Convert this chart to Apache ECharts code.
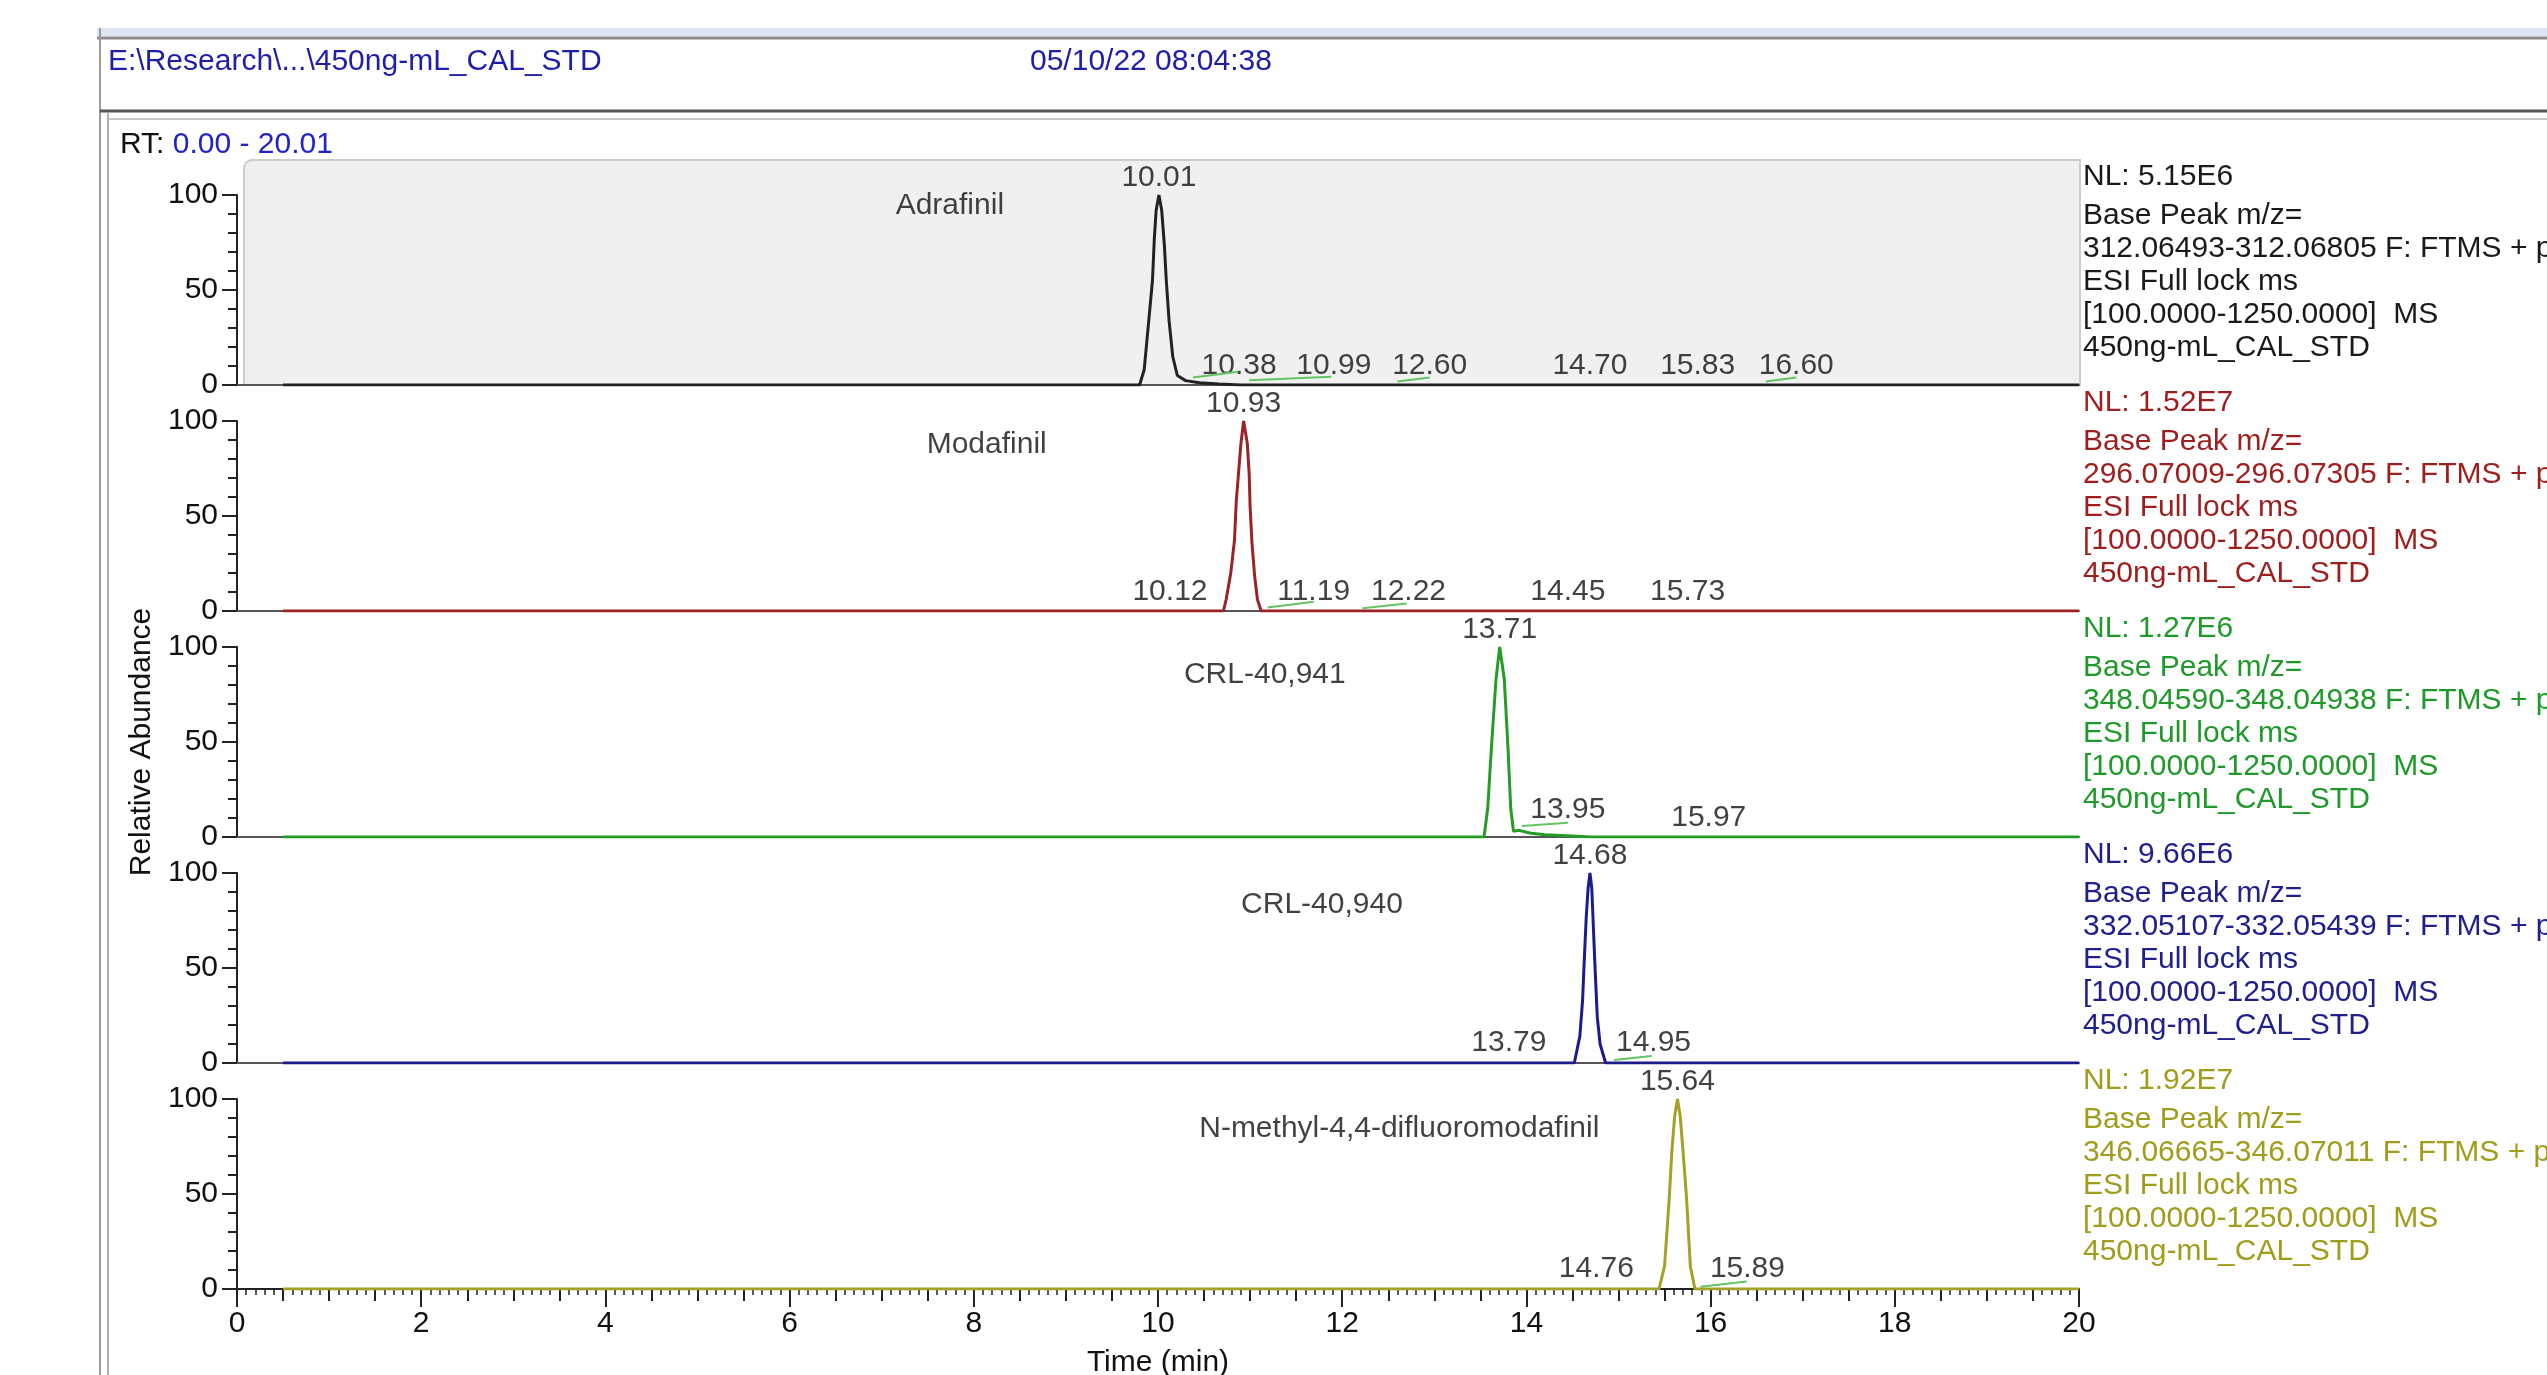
<!DOCTYPE html>
<html>
<head>
<meta charset="utf-8">
<title>450ng-mL_CAL_STD chromatograms</title>
<script src="https://cdn.jsdelivr.net/npm/echarts@6/dist/echarts.min.js"></script>
<style>
    *{margin:0;padding:0;}
    body{width:2547px;height:1375px;overflow:hidden;background:#fff;}
    #main{width:2547px;height:1375px;}
</style>
</head>
<body>
<div id="main"></div>
<script>
// ---------------- data ----------------
var compounds = ['Adrafinil', 'Modafinil', 'CRL-40,941', 'CRL-40,940', 'N-methyl-4,4-difluoromodafinil'];
var nlValues = ['5.15E6', '1.52E7', '1.27E6', '9.66E6', '1.92E7'];
var mzRanges = ['312.06493-312.06805', '296.07009-296.07305', '348.04590-348.04938', '332.05107-332.05439', '346.06665-346.07011'];

// [time (min), relative abundance]
var traceAdrafinil = [[0.5,0],[9.80,0],[9.85,8],[9.90,34],[9.94,55],[9.96,77],[9.98,92],[10.01,100],[10.04,92],[10.07,73],[10.09,55],[10.12,34],[10.16,15],[10.21,5],[10.30,2.3],[10.45,1.2],[10.66,0.5],[10.9,0],[20,0]];
var traceModafinil = [[0.5,0],[10.71,0],[10.74,6],[10.79,20],[10.83,37],[10.85,58],[10.88,76],[10.90,88],[10.93,100],[10.97,88],[10.99,72],[11.00,55],[11.02,36],[11.05,18],[11.08,6],[11.12,0],[20,0]];
var traceCRL941 = [[0.5,0],[13.54,0],[13.58,15],[13.62,47],[13.67,83],[13.71,100],[13.76,83],[13.80,47],[13.83,15],[13.86,3],[13.92,3.5],[14.05,2],[14.2,1.2],[14.5,0.5],[14.7,0],[20,0]];
var traceCRL940 = [[0.5,0],[14.52,0],[14.58,14],[14.61,33],[14.63,56],[14.65,77],[14.67,92],[14.69,100],[14.71,92],[14.73,68],[14.75,45],[14.77,24],[14.80,10],[14.86,0],[20,0]];
var traceNMethyl = [[0.5,0],[15.44,0],[15.50,12],[15.55,47],[15.58,73],[15.61,91],[15.64,100],[15.67,91],[15.70,73],[15.74,47],[15.78,12],[15.83,0],[20,0]];
var traces = [traceAdrafinil, traceModafinil, traceCRL941, traceCRL940, traceNMethyl];

// retention time printed above each main peak
var apexLabels = [[10.01,'10.01'],[10.93,'10.93'],[13.71,'13.71'],[14.69,'14.68'],[15.64,'15.64']];

// small peak labels: [time, abundance, text]
var minorLabels = [
    [[10.88,10,'10.38'],[11.91,10,'10.99'],[12.95,10,'12.60'],[14.69,10,'14.70'],[15.86,10,'15.83'],[16.93,10,'16.60']],
    [[10.13,10.2,'10.12'],[11.69,10.2,'11.19'],[12.72,10.2,'12.22'],[14.45,10.2,'14.45'],[15.75,10.2,'15.73']],
    [[14.45,14.6,'13.95'],[15.98,10.3,'15.97']],
    [[13.81,10.5,'13.79'],[15.38,10.5,'14.95']],
    [[14.76,10.5,'14.76'],[16.40,10.5,'15.89']]
];

// green integration baselines: [[t1,v1],[t2,v2]]
var greenLines = [
    [[[10.38,4],[10.87,7]], [[10.99,2.5],[11.88,4.4]], [[12.60,1.8],[12.95,4]], [[16.60,1.8],[16.93,4]]],
    [[[11.19,1.9],[11.69,4.9]], [[12.22,1.4],[12.70,4]]],
    [[[13.95,5.8],[14.45,7.5]]],
    [[[14.95,1.6],[15.36,3.7]]],
    [[[15.89,1.2],[16.39,3.9]]]
];

// where the compound name sits in each panel: [time, abundance]
var namePos = [[7.74,94.5],[8.14,87.5],[11.16,85.5],[11.78,83.5],[12.62,84.5]];

// ---------------- styling ----------------
var FONT = "'Liberation Sans', Arial, sans-serif";
var traceColors = ['#222222', '#9c2226', '#259c25', '#1c1c8c', '#a4a226'];
var infoColors = ['#1a1a1a', '#9e1e1e', '#1f9a2a', '#20208c', '#a09c1c'];
var gridTop0 = 195, gridStep = 226, gridH = 190;

var grids = [], xAxes = [], yAxes = [], series = [], graphics = [];

for (var i = 0; i < 5; i++) {
    var last = (i === 4);
    grids.push({left: 237, width: 1842, top: gridTop0 + gridStep * i, height: gridH,
        containLabel: false, outerBoundsMode: 'none'});
    xAxes.push({
        gridIndex: i, type: 'value', min: 0, max: 20, interval: 2, position: 'bottom',
        axisLine: {show: true, lineStyle: {color: last ? '#222' : '#555', width: 2}},
        axisTick: {show: last, length: 18, lineStyle: {color: '#222', width: 2}},
        axisLabel: {show: last, fontSize: 30, fontFamily: FONT, color: '#111', margin: 20},
        splitLine: {show: false},
        name: last ? 'Time (min)' : '', nameLocation: 'middle', nameGap: 59,
        nameTextStyle: {fontSize: 30, fontFamily: FONT, color: '#111'}
    });
    yAxes.push({
        gridIndex: i, type: 'value', min: 0, max: 100, interval: 50,
        axisLine: {show: true, lineStyle: {color: '#222', width: 2}},
        axisTick: {show: true, length: 15, lineStyle: {color: '#222', width: 2}},
        minorTick: {show: true, splitNumber: 5, length: 9, lineStyle: {color: '#222', width: 2}},
        axisLabel: {fontSize: 30, fontFamily: FONT, color: '#111', margin: 19},
        splitLine: {show: false}, minorSplitLine: {show: false},
        name: i === 2 ? 'Relative Abundance' : '', nameLocation: 'middle', nameGap: 80, nameRotate: 90,
        nameTextStyle: {fontSize: 30, fontFamily: FONT, color: '#111'}
    });

    series.push({
        type: 'line', xAxisIndex: i, yAxisIndex: i, data: traces[i],
        showSymbol: false, symbol: 'none', z: 4,
        lineStyle: {color: traceColors[i], width: 3}
    });
    greenLines[i].forEach(function (seg) {
        series.push({
            type: 'line', xAxisIndex: i, yAxisIndex: i, data: seg,
            showSymbol: false, symbol: 'none', z: 3,
            lineStyle: {color: '#62c462', width: 2}
        });
    });
    series.push({
        type: 'scatter', xAxisIndex: i, yAxisIndex: i, symbolSize: 1, silent: true,
        itemStyle: {color: 'rgba(0,0,0,0)'},
        data: minorLabels[i],
        label: {show: true, position: 'inside', fontSize: 30, fontFamily: FONT, color: '#111',
            formatter: function (p) { return p.value[2]; }}
    });
    series.push({
        type: 'scatter', xAxisIndex: i, yAxisIndex: i, symbolSize: 1, silent: true,
        itemStyle: {color: 'rgba(0,0,0,0)'},
        data: [[apexLabels[i][0], 100, apexLabels[i][1]]],
        label: {show: true, position: 'top', distance: 2, fontSize: 30, fontFamily: FONT, color: '#111',
            formatter: function (p) { return p.value[2]; }}
    });
    series.push({
        type: 'scatter', xAxisIndex: i, yAxisIndex: i, symbolSize: 1, silent: true,
        itemStyle: {color: 'rgba(0,0,0,0)'},
        data: [[namePos[i][0], namePos[i][1], compounds[i]]],
        label: {show: true, position: 'inside', fontSize: 30, fontFamily: FONT, color: '#111',
            formatter: function (p) { return p.value[2]; }}
    });

    // info block on the right
    var infoLines = ['Base Peak m/z=', mzRanges[i] + ' F: FTMS + p', 'ESI Full lock ms',
        '[100.0000-1250.0000]  MS', '450ng-mL_CAL_STD'];
    var y0 = 179 + gridStep * i;
    graphics.push({type: 'text', left: 2083, top: y0 - 17,
        style: {text: 'NL: ' + nlValues[i], fill: infoColors[i], font: '30px ' + FONT}});
    for (var k = 0; k < infoLines.length; k++) {
        graphics.push({type: 'text', left: 2083, top: y0 + 39 + 33 * k - 17,
            style: {text: infoLines[k], fill: infoColors[i], font: '30px ' + FONT}});
    }
}

// minor ticks of the time axis (0.5 min steps, 0.1 min minor)
xAxes.push({
    gridIndex: 4, type: 'value', min: 0, max: 20, interval: 0.5, position: 'bottom',
    axisLine: {show: false},
    axisTick: {show: true, length: 12, lineStyle: {color: '#222', width: 2}},
    minorTick: {show: true, splitNumber: 5, length: 6, lineStyle: {color: '#222', width: 1.5}},
    axisLabel: {show: false}, splitLine: {show: false}, minorSplitLine: {show: false}
});

// window frame and header
graphics.unshift(
    {type: 'rect', z: -1, shape: {x: 244, y: 160, width: 1836, height: 225, r: [8, 0, 0, 0]},
        style: {fill: '#f0f0f0', stroke: '#cdcdcd', lineWidth: 2}},
    {type: 'rect', shape: {x: 97, y: 28, width: 2450, height: 8}, style: {fill: '#dfe4f2'}},
    {type: 'line', shape: {x1: 97, y1: 38, x2: 2547, y2: 38}, style: {stroke: '#8a8a8a', lineWidth: 3}},
    {type: 'line', shape: {x1: 100, y1: 28, x2: 100, y2: 1375}, style: {stroke: '#9a9a9a', lineWidth: 2}},
    {type: 'line', shape: {x1: 100, y1: 111, x2: 2547, y2: 111}, style: {stroke: '#555', lineWidth: 3}},
    {type: 'line', shape: {x1: 108, y1: 119, x2: 2547, y2: 119}, style: {stroke: '#c8c8c8', lineWidth: 2}},
    {type: 'line', shape: {x1: 108, y1: 113, x2: 108, y2: 1375}, style: {stroke: '#b0b0b0', lineWidth: 2}},
    {type: 'text', left: 108, top: 47,
        style: {text: 'E:\\Research\\...\\450ng-mL_CAL_STD', fill: '#1e1ea8', font: '30px ' + FONT}},
    {type: 'text', left: 1030, top: 47,
        style: {text: '05/10/22 08:04:38', fill: '#1e1ea8', font: '30px ' + FONT}},
    {type: 'text', left: 120, top: 130,
        style: {text: '{a|RT: }{b|0.00 - 20.01}', font: '30px ' + FONT,
            rich: {a: {fill: '#111', fontSize: 30, fontFamily: FONT}, b: {fill: '#2323c8', fontSize: 30, fontFamily: FONT}}}}
);

var myChart = echarts.init(document.getElementById('main'));
myChart.setOption({
    backgroundColor: '#fff',
    animation: false,
    grid: grids,
    xAxis: xAxes,
    yAxis: yAxes,
    series: series,
    graphic: {elements: graphics}
});
</script>
</body>
</html>
